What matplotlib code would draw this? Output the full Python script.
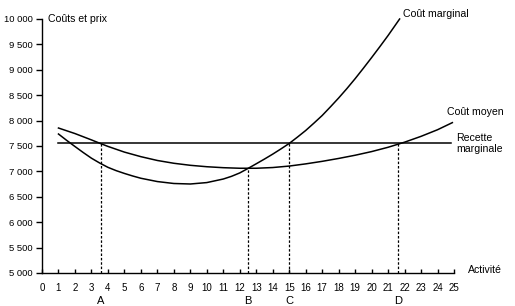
import matplotlib
matplotlib.use("Agg")
import matplotlib.pyplot as plt

plt.rcParams['font.family'] = ['Liberation Sans', 'DejaVu Sans']

# Coût marginal
mc_x = [1, 1.5, 2, 2.5, 3, 3.5, 4, 4.5, 5, 5.5, 6, 7, 8, 9, 10, 11, 11.5, 12, 12.5, 13,
        13.5, 14, 14.5, 15, 15.5, 16, 16.5, 17, 17.5, 18, 18.5, 19, 19.5, 20, 20.5, 21, 21.7]
mc_y = [7736, 7610, 7490, 7372, 7260, 7165, 7080, 7015, 6960, 6910, 6865, 6800, 6762,
        6752, 6780, 6850, 6903, 6970, 7058, 7150, 7243, 7340, 7443, 7550, 7675, 7805,
        7950, 8100, 8270, 8445, 8630, 8825, 9030, 9240, 9455, 9675, 10000]

# Coût moyen
ac_x = [1, 2, 3, 3.5, 4, 5, 6, 7, 8, 9, 10, 11, 12, 13, 14, 15, 16, 17, 18, 19, 20, 21,
        22, 23, 24, 24.9]
ac_y = [7854, 7745, 7620, 7555, 7492, 7380, 7290, 7215, 7160, 7120, 7092, 7073, 7062,
        7062, 7076, 7105, 7148, 7198, 7255, 7318, 7390, 7475, 7575, 7690, 7820, 7960]

# Recette marginale
rm_x = [1, 24.8]
rm_y = [7550, 7550]

# Points A, B, C, D
pt_labels = ['A', 'B', 'C', 'D']
pt_x = [3.55, 12.5, 15, 21.6]
pt_y = [7550, 7060, 7550, 7550]

x_ticks = list(range(0, 26))
y_ticks = list(range(5000, 10001, 500))
y_tick_labels = ['5 000', '5 500', '6 000', '6 500', '7 000', '7 500', '8 000',
                 '8 500', '9 000', '9 500', '10 000']

fig = plt.figure(figsize=(5.15, 3.06), dpi=100)
ax = fig.add_axes([42 / 515, 33 / 306, (454 - 42) / 515, (273 - 19) / 306])

ax.plot(mc_x, mc_y, color='black', lw=1.1, clip_on=False)
ax.plot(ac_x, ac_y, color='black', lw=1.1, clip_on=False)
ax.plot(rm_x, rm_y, color='black', lw=1.1, clip_on=False)

for px, py in zip(pt_x, pt_y):
    ax.plot([px, px], [5000, py], color='black', lw=0.9, linestyle=(0, (2, 1.5)))

ax.set_xlim(0, 25)
ax.set_ylim(5000, 10000)
ax.set_xticks(x_ticks)
ax.set_xticklabels([str(v) for v in x_ticks])
ax.set_yticks(y_ticks)
ax.set_yticklabels(y_tick_labels)

ax.spines['top'].set_visible(False)
ax.spines['right'].set_visible(False)
ax.spines['left'].set_linewidth(1.0)
ax.spines['bottom'].set_linewidth(1.0)
ax.tick_params(axis='x', direction='in', length=3, width=1, pad=7, labelsize=7)
ax.tick_params(axis='y', direction='out', length=4, width=1, pad=2.5, labelsize=6.8)

for lab, px in zip(pt_labels, pt_x):
    ax.text(px, 4440, lab, ha='center', va='center', fontsize=8, clip_on=False)

ax.text(0.35, 10000, 'Coûts et prix', ha='left', va='center', fontsize=7.6)
ax.text(21.9, 10100, 'Coût marginal', ha='left', va='center', fontsize=7.6)
ax.text(24.6, 8170, 'Coût moyen', ha='left', va='center', fontsize=7.6)
ax.text(25.15, 7545, 'Recette\nmarginale', ha='left', va='center', fontsize=7.6,
        linespacing=1.1)
ax.text(25.85, 5060, 'Activité', ha='left', va='center', fontsize=7.6)

fig.savefig('out.png', dpi=100)
